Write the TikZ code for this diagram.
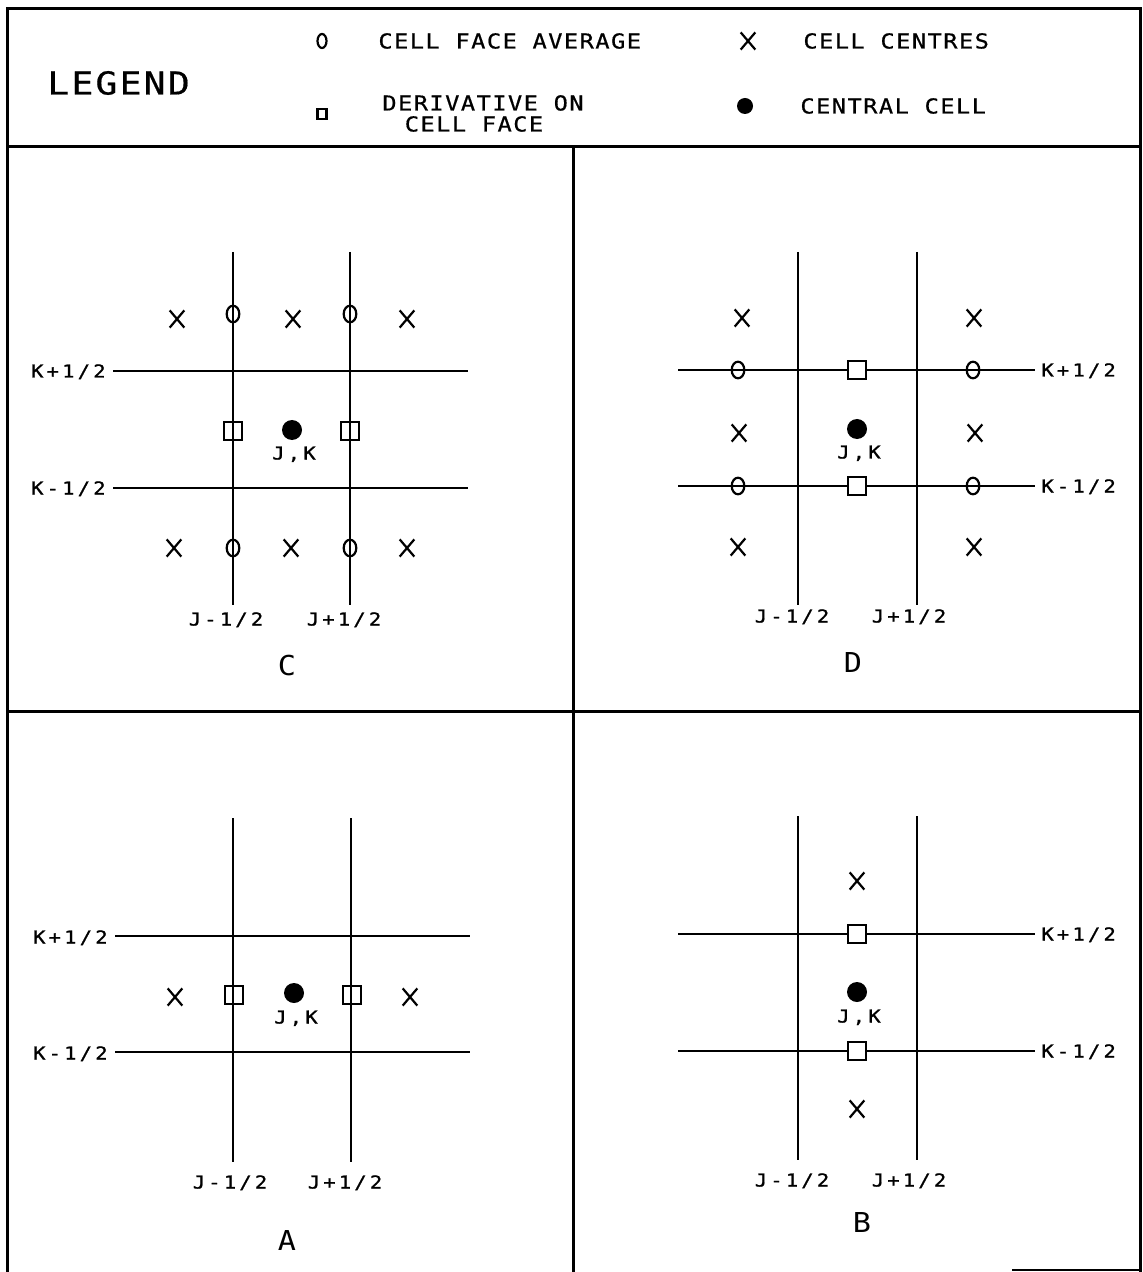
\documentclass[tikz,border=0pt]{standalone}
\usepackage{fontspec}
\usetikzlibrary{shapes.geometric,shapes.misc}
% plotter-style lettering: monospaced sans, widened, with extra tracking
\newfontfamily\plotwide{DejaVu Sans Mono}[FakeStretch=1.15, LetterSpace=18, FakeBold=1.2]
\newfontfamily\plotmid{DejaVu Sans Mono}[FakeStretch=1.15, LetterSpace=7, FakeBold=0.6]
\newfontfamily\plotplain{DejaVu Sans Mono}[FakeStretch=1.1]

\tikzset{
  frame/.style={line width=1.5pt},
  gridline/.style={line width=1.2pt},
  mk/.style={draw, line width=1.1pt, inner sep=0pt},
  avgmark/.style={mk, ellipse, minimum width=6.3pt, minimum height=8.3pt},
  dermark/.style={mk, rectangle, minimum size=9pt},
  dermarkw/.style={dermark, fill=white},
  ctrmark/.style={mk, cross out, minimum width=6.2pt, minimum height=7.5pt},
  jkmark/.style={circle, fill, inner sep=0pt, minimum size=10pt},
  lbl/.style={inner sep=0pt, font=\plotwide\fontsize{8.9}{10}\selectfont, text height=6.5pt, text depth=0pt},
  legtext/.style={inner sep=0pt, font=\plotmid\fontsize{10.3}{12}\selectfont, text height=7.5pt, text depth=0pt},
  titletext/.style={inner sep=0pt, font=\plotmid\fontsize{15.8}{18}\selectfont, text height=11.5pt, text depth=0pt},
  paneltext/.style={inner sep=0pt, font=\plotplain\fontsize{13.7}{16}\selectfont, text height=10pt, text depth=0pt},
}

\begin{document}
\begin{tikzpicture}[x=0.5pt,y=-0.5pt]
\useasboundingbox (0,0) rectangle (1142,1272);

% ---------- frame ----------
\coordinate (tl) at (7,9);
\coordinate (tr) at (1140,9);
\coordinate (bl) at (7,1272);
\coordinate (br) at (1140,1272);
\coordinate (legL) at (7,147);
\coordinate (legR) at (1140,147);
\coordinate (midL) at (7,711);
\coordinate (midR) at (1140,711);
\coordinate (divT) at (573,147);
\coordinate (divB) at (573,1272);
\coordinate (botA) at (1012,1270);
\coordinate (botB) at (1140,1270);
\draw[frame] (bl) -- (tl) -- (tr) -- (br);
\draw[frame] (legL) -- (legR);
\draw[frame] (midL) -- (midR);
\draw[frame] (divT) -- (divB);
\draw[line width=0.8pt] (botA) -- (botB);

% ---------- legend ----------
\node[titletext, anchor=west] (lgTitle) at (47,83) {LEGEND};
\node[avgmark, minimum width=4.5pt, minimum height=7pt] (lgAvg) at (322,41) {};
\node[legtext, anchor=west] (lgAvgT) at (378,41) {CELL FACE AVERAGE};
\node[dermark, minimum width=4.5pt, minimum height=5pt] (lgDer) at (322,114) {};
\node[legtext] (lgDerT1) at (483,103) {DERIVATIVE ON};
\node[legtext] (lgDerT2) at (474,124) {CELL FACE};
\node[ctrmark] (lgCtr) at (748,41) {};
\node[legtext, anchor=west] (lgCtrT) at (803,41) {CELL CENTRES};
\node[jkmark, minimum size=8pt] (lgDot) at (745,106) {};
\node[legtext, anchor=west] (lgDotT) at (800,106) {CENTRAL CELL};

% ---------- panel C ----------
\coordinate (cJmT) at (233,252); \coordinate (cJmB) at (233,605);
\coordinate (cJpT) at (350,252); \coordinate (cJpB) at (350,605);
\coordinate (cKpL) at (113,371); \coordinate (cKpR) at (468,371);
\coordinate (cKmL) at (113,488); \coordinate (cKmR) at (468,488);
\draw[gridline] (cJmT) -- (cJmB);
\draw[gridline] (cJpT) -- (cJpB);
\draw[gridline] (cKpL) -- (cKpR);
\draw[gridline] (cKmL) -- (cKmR);
\node[lbl, anchor=east] (cKpT) at (106,371) {K+1/2};
\node[lbl, anchor=east] (cKmT) at (106,488) {K-1/2};
\node[lbl] (cJmTx) at (226,619) {J-1/2};
\node[lbl] (cJpTx) at (344,619) {J+1/2};
\foreach \x/\y [count=\i] in {177/319,293/319,407/319,174/548,291/548,407/548}
  \node[ctrmark] (cX\i) at (\x,\y) {};
\foreach \x/\y [count=\i] in {233/314,350/314,233/548,350/548}
  \node[avgmark] (cO\i) at (\x,\y) {};
\node[dermark] (cD1) at (233,431) {};
\node[dermark] (cD2) at (350,431) {};
\node[jkmark] (cJK) at (292,430) {};
\node[lbl] (cJKT) at (294,453) {J,K};
\node[paneltext] (cName) at (287,665) {C};

% ---------- panel D ----------
\coordinate (dJmT) at (798,252); \coordinate (dJmB) at (798,605);
\coordinate (dJpT) at (917,252); \coordinate (dJpB) at (917,605);
\coordinate (dKpL) at (678,370); \coordinate (dKpR) at (1035,370);
\coordinate (dKmL) at (678,486); \coordinate (dKmR) at (1035,486);
\draw[gridline] (dJmT) -- (dJmB);
\draw[gridline] (dJpT) -- (dJpB);
\draw[gridline] (dKpL) -- (dKpR);
\draw[gridline] (dKmL) -- (dKmR);
\node[lbl, anchor=west] (dKpT) at (1041,370) {K+1/2};
\node[lbl, anchor=west] (dKmT) at (1041,486) {K-1/2};
\node[lbl] (dJmTx) at (792,616) {J-1/2};
\node[lbl] (dJpTx) at (909,616) {J+1/2};
\foreach \x/\y [count=\i] in {742/318,974/318,739/433,975/433,738/547,974/547}
  \node[ctrmark] (dX\i) at (\x,\y) {};
\foreach \x/\y [count=\i] in {738/370,973/370,738/486,973/486}
  \node[avgmark] (dO\i) at (\x,\y) {};
\node[dermarkw] (dD1) at (857,370) {};
\node[dermarkw] (dD2) at (857,486) {};
\node[jkmark] (dJK) at (857,429) {};
\node[lbl] (dJKT) at (859,452) {J,K};
\node[paneltext] (dName) at (853,662) {D};

% ---------- panel A ----------
\coordinate (aJmT) at (233,818); \coordinate (aJmB) at (233,1162);
\coordinate (aJpT) at (351,818); \coordinate (aJpB) at (351,1162);
\coordinate (aKpL) at (115,936); \coordinate (aKpR) at (470,936);
\coordinate (aKmL) at (115,1052); \coordinate (aKmR) at (470,1052);
\draw[gridline] (aJmT) -- (aJmB);
\draw[gridline] (aJpT) -- (aJpB);
\draw[gridline] (aKpL) -- (aKpR);
\draw[gridline] (aKmL) -- (aKmR);
\node[lbl, anchor=east] (aKpT) at (108,937) {K+1/2};
\node[lbl, anchor=east] (aKmT) at (108,1053) {K-1/2};
\node[lbl] (aJmTx) at (230,1182) {J-1/2};
\node[lbl] (aJpTx) at (345,1182) {J+1/2};
\node[ctrmark] (aX1) at (175,997) {};
\node[ctrmark] (aX2) at (410,997) {};
\node[dermark] (aD1) at (234,995) {};
\node[dermark] (aD2) at (352,995) {};
\node[jkmark] (aJK) at (294,993) {};
\node[lbl] (aJKT) at (296,1017) {J,K};
\node[paneltext] (aName) at (287,1240) {A};

% ---------- panel B ----------
\coordinate (bJmT) at (798,816); \coordinate (bJmB) at (798,1160);
\coordinate (bJpT) at (917,816); \coordinate (bJpB) at (917,1160);
\coordinate (bKpL) at (678,934); \coordinate (bKpR) at (1035,934);
\coordinate (bKmL) at (678,1051); \coordinate (bKmR) at (1035,1051);
\draw[gridline] (bJmT) -- (bJmB);
\draw[gridline] (bJpT) -- (bJpB);
\draw[gridline] (bKpL) -- (bKpR);
\draw[gridline] (bKmL) -- (bKmR);
\node[lbl, anchor=west] (bKpT) at (1041,934) {K+1/2};
\node[lbl, anchor=west] (bKmT) at (1041,1051) {K-1/2};
\node[lbl] (bJmTx) at (792,1180) {J-1/2};
\node[lbl] (bJpTx) at (909,1180) {J+1/2};
\node[ctrmark] (bX1) at (857,881) {};
\node[ctrmark] (bX2) at (857,1109) {};
\node[dermarkw] (bD1) at (857,934) {};
\node[dermarkw] (bD2) at (857,1051) {};
\node[jkmark] (bJK) at (857,992) {};
\node[lbl] (bJKT) at (859,1016) {J,K};
\node[paneltext] (bName) at (862,1222) {B};
\end{tikzpicture}
\end{document}
